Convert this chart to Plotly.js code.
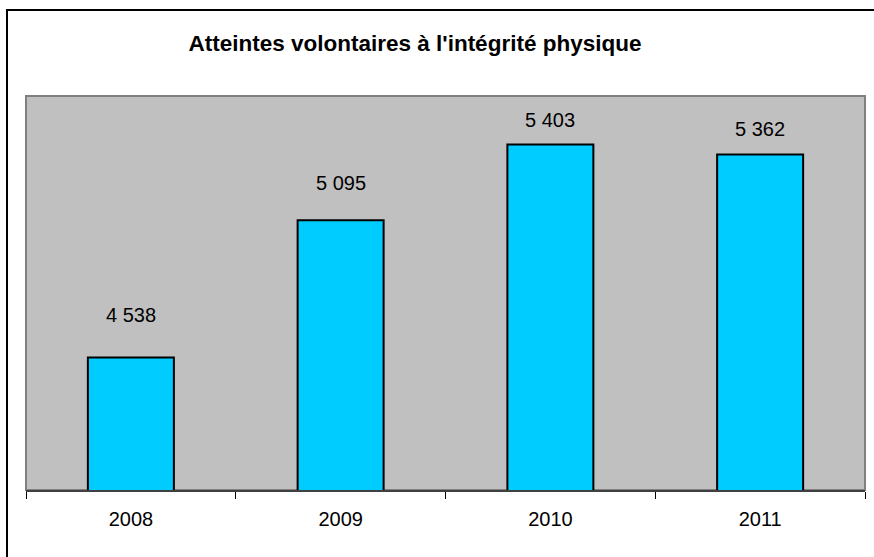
<!DOCTYPE html>
<html>
<head>
<meta charset="utf-8">
<script src="https://cdn.plot.ly/plotly-3.0.1.min.js"></script>
<style>
  html, body { margin: 0; padding: 0; overflow: hidden; background: #fff; }
  #chart { width: 874px; height: 557px; position: absolute; left: 0; top: 0; }
  #frame { position: absolute; left: 6px; top: 9px; width: 900px; height: 600px;
           border-top: 2px solid #000; border-left: 2px solid #000; pointer-events: none; }
</style>
</head>
<body>
<div id="chart"></div>
<div id="frame"></div>
<script>
const categories = ["2008", "2009", "2010", "2011"];
const values = [4538, 5095, 5403, 5362];
const titleText = "Atteintes volontaires à l'intégrité physique";

const labelShift = [43, 37, 25, 26];

function fmt(v) {
  return String(v).replace(/\B(?=(\d{3})+(?!\d))/g, " ");
}

const trace = {
  type: "bar",
  x: categories,
  y: values,
  width: 0.41,
  marker: { color: "#00CCFF", line: { color: "#000000", width: 2 } },
  hoverinfo: "none"
};

const annotations = categories.map((c, i) => ({
  x: i, y: values[i], xref: "x", yref: "y",
  text: fmt(values[i]), showarrow: false,
  yshift: labelShift[i], yanchor: "middle",
  font: { family: "Liberation Sans, Arial, sans-serif", size: 20, color: "#000" }
}));

const layout = {
  width: 874, height: 557,
  margin: { l: 26, r: 9, t: 96, b: 67 },
  paper_bgcolor: "#ffffff",
  plot_bgcolor: "#C0C0C0",
  showlegend: false,
  title: {
    text: "<b>" + titleText + "</b>",
    x: 0.4636, xref: "paper", xanchor: "center",
    y: 1 - 43 / 557, yref: "container", yanchor: "middle",
    font: { family: "Liberation Sans, Arial, sans-serif", size: 22.5, color: "#000" }
  },
  xaxis: {
    type: "category",
    categoryorder: "array", categoryarray: categories,
    range: [-0.5, categories.length - 0.5],
    showline: true, linecolor: "#404040", linewidth: 2,
    ticks: "outside", tickson: "boundaries", ticklen: 7, tickwidth: 1, tickcolor: "#000",
    ticklabelstandoff: 10,
    showgrid: false, zeroline: false, tickangle: 0,
    tickfont: { family: "Liberation Sans, Arial, sans-serif", size: 20, color: "#000" },
    automargin: false
  },
  yaxis: {
    range: [4000, 5600],
    showticklabels: false, ticks: "", showgrid: false, zeroline: false, showline: false,
    automargin: false
  },
  shapes: [{
    type: "rect", xref: "paper", yref: "paper", x0: 0, x1: 1, y0: 0, y1: 1,
    line: { color: "#808080", width: 2 }, layer: "below"
  }],
  annotations: annotations
};

Plotly.newPlot("chart", [trace], layout, { displayModeBar: false, staticPlot: true });
</script>
</body>
</html>
